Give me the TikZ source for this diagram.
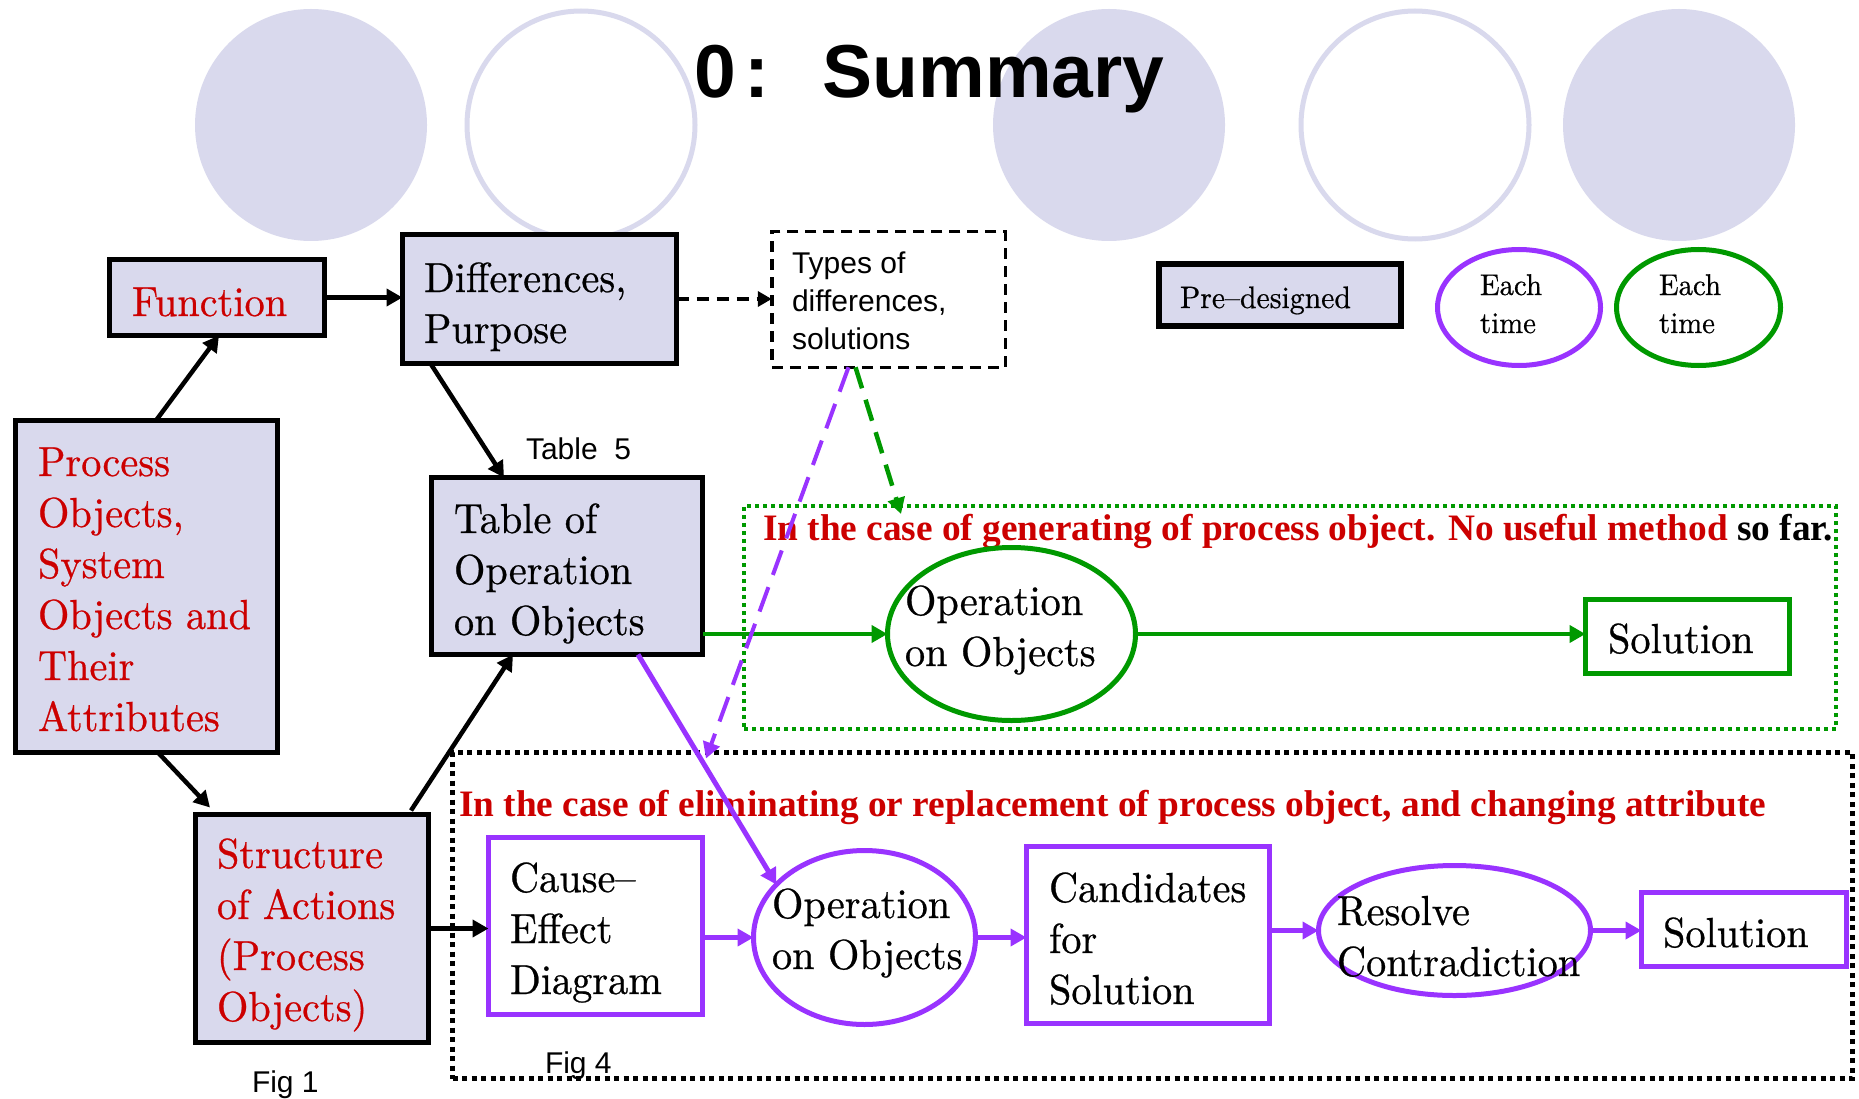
\documentclass[tikz,border=0pt]{standalone}
\usepackage{fontspec}
\setmainfont{lmroman10-regular.otf}[FakeBold=0.6,FakeStretch=0.96]
\newfontfamily\arialfont{Liberation Sans}
\newfontfamily\timesfont{Liberation Serif}
\usetikzlibrary{arrows.meta,shapes.geometric}
\definecolor{lav}{RGB}{217,217,237}
\definecolor{myred}{RGB}{204,0,0}
\definecolor{mypurple}{RGB}{153,51,255}
\definecolor{mygreen}{RGB}{0,153,0}
\newcommand{\bxt}[3]{\raisebox{#2}[0pt][0pt]{\makebox[0pt][l]{\hspace*{-#1}\begin{tabular}[t]{@{}l@{}}#3\end{tabular}}}}
\begin{document}
\begin{tikzpicture}[x=1pt,y=-1pt,
  every node/.style={inner sep=0pt,outer sep=0pt},
  mainf/.style={font=\fontsize{42}{51}\selectfont},
  lavbox/.style={rectangle,draw=black,line width=5pt,fill=lav,mainf},
  pbox/.style={rectangle,draw=mypurple,line width=5pt,fill=white,mainf},
  gbox/.style={rectangle,draw=mygreen,line width=5pt,fill=white,mainf},
  pell/.style={ellipse,draw=mypurple,line width=5pt,fill=white,mainf},
  gell/.style={ellipse,draw=mygreen,line width=5pt,fill=white,mainf},
  sans/.style={font=\arialfont\fontsize{30}{38}\selectfont},
  bigtitle/.style={font=\timesfont\bfseries\fontsize{37.3}{44}\selectfont},
  arr/.style={draw=black,line width=4.5pt,-{Triangle[length=16pt,width=17pt]}},
  parr/.style={draw=mypurple,line width=5pt,-{Triangle[length=16pt,width=17pt]}},
  garr/.style={draw=mygreen,line width=4.5pt,-{Triangle[length=16pt,width=17pt]}},
  bgdisc/.style={fill=lav},
  bgring/.style={draw=lav,line width=5pt},
]
\useasboundingbox (0,0) rectangle (1859,1099);
\fill[white] (0,0) rectangle (1859,1099);

% background circles
\fill[bgdisc] (311,125) circle (116pt);
\draw[bgring] (581,125) circle (114pt);
\fill[bgdisc] (1109,125) circle (116pt);
\draw[bgring] (1415,125) circle (114pt);
\fill[bgdisc] (1679,125) circle (116pt);

% title
\node[font=\arialfont\bfseries\fontsize{75}{80}\selectfont, anchor=base west] (title) at (694,98) {0\hspace{9pt}:\hspace{53pt}Summary};

% containers
\node[draw=mygreen, line width=4pt, dash pattern=on 4pt off 4pt, minimum width=1092pt, minimum height=223pt] (gen) at (1290,617.5) {};
\node[draw=black, line width=4.5pt, dash pattern=on 5pt off 4.5pt, minimum width=1400pt, minimum height=326pt] (elim) at (1152.5,915.5) {};

% container titles
\node[bigtitle, anchor=base west] (t1) at (763,540) {\textcolor{myred}{In the case of generating of process object. No useful method} so far.};
\node[bigtitle, text=myred, anchor=base west] (t2) at (459,816) {In the case of eliminating or replacement of process object, and changing attribute};

% left / upper boxes
\node[lavbox, text=myred, minimum width=215pt, minimum height=76pt] (fn) at (217,297.5) {\bxt{85pt}{-18.5pt}{Function}};
\node[lavbox, minimum width=274pt, minimum height=129pt] (diff) at (539.5,299) {\bxt{115.5pt}{7pt}{Differences,\\Purpose}};
\node[lavbox, text=myred, minimum width=262pt, minimum height=332pt] (proc) at (146.5,586.5) {\bxt{108.5pt}{110.5pt}{Process\\Objects,\\System\\Objects and\\Their\\Attributes}};
\node[lavbox, minimum width=271pt, minimum height=177pt] (tab) at (567,566) {\bxt{113pt}{33pt}{Table of\\Operation\\on Objects}};
\node[lavbox, text=myred, minimum width=233pt, minimum height=228pt] (str) at (312,928.5) {\bxt{95pt}{60.5pt}{Structure\\of Actions\\(Process\\Objects)}};

\node[draw=black, line width=3.5pt, dash pattern=on 11pt off 7pt, minimum width=233.5pt, minimum height=135.5pt, sans] (types) at (888.5,299.5) {\bxt{96.5pt}{26.5pt}{Types of\\differences,\\solutions}};

% legend
\node[rectangle, draw=black, line width=6pt, fill=lav, minimum width=242pt, minimum height=62pt, font=\fontsize{31}{38}\selectfont] (pre) at (1280,295) {\bxt{100pt}{-13pt}{Pre--designed}};
\node[ellipse, draw=mypurple, line width=5pt, minimum width=163pt, minimum height=116pt, font=\fontsize{30}{38}\selectfont] (eachp) at (1519,307.5) {\bxt{39pt}{12.5pt}{Each\\time}};
\node[ellipse, draw=mygreen, line width=5pt, minimum width=164pt, minimum height=116pt, font=\fontsize{30}{38}\selectfont] (eachg) at (1698.5,307.5) {\bxt{39.5pt}{12.5pt}{Each\\time}};

% green row
\node[gell, minimum width=248pt, minimum height=173pt] (gop) at (1011.5,634) {\bxt{106.5pt}{19pt}{Operation\\on Objects}};
\node[gbox, minimum width=204pt, minimum height=74pt] (gsol) at (1687.5,636.5) {\bxt{79.5pt}{-16.5pt}{Solution}};

% purple row
\node[pbox, minimum width=214pt, minimum height=177pt] (cause) at (595.5,926) {\bxt{85.5pt}{34pt}{Cause--\\Effect\\Diagram}};
\node[pell, minimum width=222pt, minimum height=174pt] (pop) at (864.5,937.5) {\bxt{92.5pt}{19.5pt}{Operation\\on Objects}};
\node[pbox, minimum width=243pt, minimum height=177pt] (cand) at (1148,935) {\bxt{99pt}{33pt}{Candidates\\for\\Solution}};
\node[pell, fill=none, minimum width=272pt, minimum height=130pt] (res) at (1454.5,930.5) {\bxt{117.5pt}{5.5pt}{Resolve\\Contradiction}};
\node[pbox, minimum width=205pt, minimum height=74pt] (psol) at (1744,929.5) {\bxt{81pt}{-17.5pt}{Solution}};

% labels
\node[sans, anchor=base west] (tab5) at (526,459) {Table\ \ 5};
\node[sans, anchor=base west] (fig1) at (252,1092) {Fig 1};
\node[sans, anchor=base west] (fig4) at (545,1073) {Fig 4};

% black connectors
\draw[arr] ([xshift=9.5pt]proc.north) -- ([xshift=2pt]fn.south);
\draw[arr] (fn.east) -- (fn.east -| diff.west);
\draw[arr] ([xshift=-109pt]diff.south) -- ([xshift=-63pt]tab.north);
\draw[arr] ([xshift=11.5pt]proc.south) -- ([xshift=-102pt,yshift=7pt]str.north);
\draw[arr] ([xshift=99pt,yshift=4pt]str.north) -- ([xshift=-54pt]tab.south);
\draw[arr] (str.east) -- (str.east -| cause.west);
\draw[draw=black, line width=4pt, dash pattern=on 12pt off 8pt, -{Triangle[length=14pt,width=15pt]}] (diff.east) -- (diff.east -| types.west);

% green connectors
\draw[garr] (gop.west -| tab.east) -- (gop.west);
\draw[garr] (gop.east) -- (gop.east -| gsol.west);
\draw[garr, dash pattern=on 22pt off 12pt] ([xshift=-33pt]types.south) -- ([xshift=-389pt,yshift=-8pt]gen.north);

% purple connectors
\draw[parr] ([xshift=71pt]tab.south) -- (pop.149);
\draw[parr, line width=4pt, dash pattern=on 26pt off 13pt] ([xshift=-40pt]types.south) -- ([xshift=-446.5pt,yshift=-6pt]elim.north);
\draw[parr] (pop.west -| cause.east) -- (pop.west);
\draw[parr] (pop.east) -- (pop.east -| cand.west);
\draw[parr] (res.west -| cand.east) -- (res.west);
\draw[parr] (res.east) -- (res.east -| psol.west);
\end{tikzpicture}
\end{document}
